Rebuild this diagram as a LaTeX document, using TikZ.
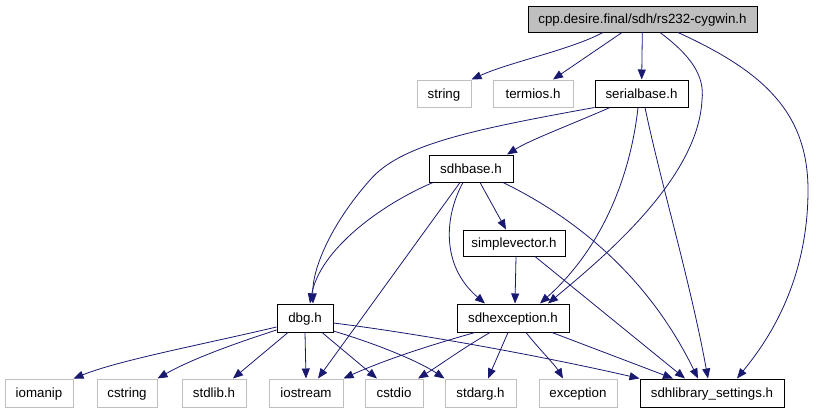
\documentclass[tikz,border=0pt]{standalone}
\usepackage{fontspec}
\setmainfont{Liberation Sans}
\usepackage{xcolor}
\usepackage{tikz}
\usetikzlibrary{arrows.meta}

\definecolor{edgeblue}{HTML}{191970}
\definecolor{extgray}{HTML}{BFBFBF}
\newdimen\px \px=0.75pt

\begin{document}
\begin{tikzpicture}[
        x=0.75pt, y=-0.75pt,
        base/.style={draw, rectangle, inner sep=0pt, line width=0.75pt, minimum height=27\px, text height=7.2pt, text depth=0pt, font=\fontsize{10pt}{12pt}\selectfont},
        ext/.style={base, draw=extgray},
        doc/.style={base, draw=black},
        mainfile/.style={doc, fill=extgray, minimum height=26\px},
        arrow/.style={-{Triangle[length=7.5pt, width=6pt]}, line width=0.6pt, draw=edgeblue}
    ]
    \useasboundingbox (0,0) rectangle (828,411);

    \node (top) at (642.5, 19) [mainfile, minimum width=229\px] {cpp.desire.final/sdh/rs232-cygwin.h};

    \node (string) at (444, 93.5) [ext, minimum width=54\px] {string};
    \node (termios) at (533, 93.5) [ext, minimum width=80\px] {termios.h};
    \node (serialbase) at (641.5, 93.5) [doc, minimum width=93\px] {serialbase.h};

    \node (sdhbase) at (471, 168.5) [doc, minimum width=84\px] {sdhbase.h};
    \node (simplevector) at (514, 243) [doc, minimum width=102\px, minimum height=26\px] {simplevector.h};

    \node (dbg) at (305, 318) [doc, minimum width=56\px, minimum height=28\px] {dbg.h};
    \node (sdhexception) at (513, 318) [doc, minimum width=112\px, minimum height=28\px] {sdhexception.h};

    \node (iomanip) at (39, 393) [ext, minimum width=68\px, minimum height=28\px] {iomanip};
    \node (cstring) at (127, 393) [ext, minimum width=60\px, minimum height=28\px] {cstring};
    \node (stdlib) at (214, 393) [ext, minimum width=64\px, minimum height=28\px] {stdlib.h};
    \node (iostream) at (306, 393) [ext, minimum width=74\px, minimum height=28\px] {iostream};
    \node (cstdio) at (394, 393) [ext, minimum width=58\px, minimum height=28\px] {cstdio};
    \node (stdarg) at (480.5, 393) [ext, minimum width=71\px, minimum height=28\px] {stdarg.h};
    \node (exception) at (578, 393) [ext, minimum width=78\px, minimum height=28\px] {exception};
    \node (settings) at (712, 393) [doc, minimum width=144\px, minimum height=28\px] {sdhlibrary\_settings.h};

    % rs232-cygwin.h
    \draw [arrow] ([xshift=-39.5\px]top.south) .. controls (570,50) and (510,62) .. (string.north east);
    \draw [arrow] ([xshift=-20.5\px]top.south) -- ([xshift=20\px]termios.north);
    \draw [arrow] (top) -- (serialbase);
    \draw [arrow] ([xshift=17.5\px]top.south) .. controls (690,55) and (705,75) .. (702,100) .. controls (698,180) and (600,260) .. ([xshift=35\px]sdhexception.north);
    \draw [arrow] ([xshift=35.5\px]top.south) .. controls (760,70) and (808,110) .. (808,190) .. controls (808,290) and (760,350) .. ([xshift=25\px]settings.north);

    % serialbase.h
    \draw [arrow] (serialbase.south west) .. controls (470,130) and (400,145) .. (370,180) .. controls (330,225) and (312,270) .. ([xshift=8\px]dbg.north);
    \draw [arrow] ([xshift=-31.5\px]serialbase.south) .. controls (570,125) and (530,140) .. ([xshift=36\px]sdhbase.north);
    \draw [arrow] ([xshift=-3.5\px]serialbase.south) .. controls (630,180) and (600,250) .. ([xshift=27\px]sdhexception.north);
    \draw [arrow] ([xshift=3.5\px]serialbase.south) .. controls (660,180) and (690,280) .. ([xshift=-4\px]settings.north);

    % sdhbase.h
    \draw [arrow] ([xshift=-38\px]sdhbase.south) .. controls (380,205) and (320,250) .. ([xshift=5\px]dbg.north);
    \draw [arrow] ([xshift=-11\px]sdhbase.south) -- ([xshift=12\px]iostream.north);
    \draw [arrow] ([xshift=-8\px]sdhbase.south) .. controls (445,215) and (440,265) .. ([xshift=-28\px]sdhexception.north);
    \draw [arrow] ([xshift=9\px]sdhbase.south) -- ([xshift=-8\px]simplevector.north);
    \draw [arrow] ([xshift=32\px]sdhbase.south) .. controls (580,220) and (650,280) .. ([xshift=-14\px]settings.north);

    % simplevector.h
    \draw [arrow] ([xshift=2\px]simplevector.south) -- ([xshift=2\px]sdhexception.north);
    \draw [arrow] ([xshift=21\px]simplevector.south) -- ([xshift=-27\px]settings.north);

    % dbg.h
    \draw [arrow] ([yshift=-9\px]dbg.west) .. controls (200,345) and (120,360) .. (iomanip.north east);
    \draw [arrow] ([yshift=-12\px]dbg.west) .. controls (230,345) and (190,360) .. (cstring.north east);
    \draw [arrow] ([xshift=-17\px]dbg.south) -- ([xshift=19\px]stdlib.north);
    \draw [arrow] (dbg.south) -- (iostream.north);
    \draw [arrow] ([xshift=17\px]dbg.south) -- ([xshift=-17\px]cstdio.north);
    \draw [arrow] ([yshift=-13\px]dbg.east) .. controls (380,345) and (420,362) .. (stdarg.north west);
    \draw [arrow] ([yshift=-5\px]dbg.east) .. controls (430,335) and (560,360) .. (settings.north west);

    % sdhexception.h
    \draw [arrow] ([xshift=-38\px]sdhexception.south) .. controls (420,348) and (380,362) .. (iostream.north east);
    \draw [arrow] ([xshift=-23\px]sdhexception.south) .. controls (460,350) and (440,365) .. ([xshift=24\px]cstdio.north);
    \draw [arrow] ([xshift=-5\px]sdhexception.south) -- ([xshift=7.5\px]stdarg.north);
    \draw [arrow] ([xshift=13\px]sdhexception.south) .. controls (540,350) and (555,365) .. ([xshift=-15\px]exception.north);
    \draw [arrow] ([xshift=39\px]sdhexception.south) -- ([xshift=-39\px]settings.north);

\end{tikzpicture}
\end{document}
